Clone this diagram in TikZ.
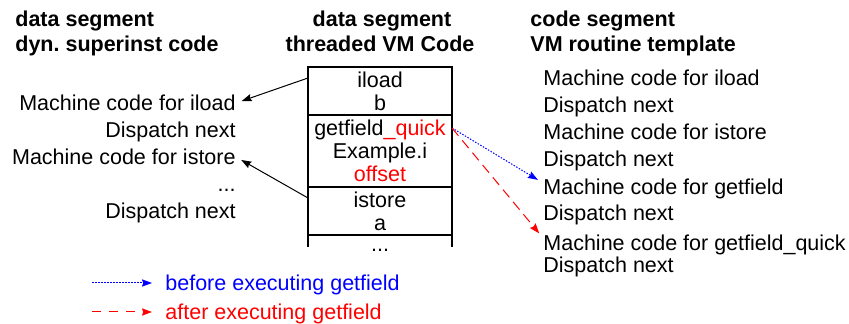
\documentclass[tikz,border=0pt]{standalone}
\usepackage{fontspec}
\setmainfont{Liberation Sans}
\usetikzlibrary{arrows.meta,positioning}

\begin{document}
\begin{tikzpicture}[x=0.5pt, y=-0.5pt, >={Stealth[length=5pt, width=3.6pt, inset=0.6pt]}, shorten >=3pt,
    txt/.style={inner sep=0pt, text height=7.7pt, text depth=0pt, font=\fontsize{10.75}{13}\selectfont},
    head/.style={txt, font=\fontsize{10.75}{13}\selectfont\bfseries},
    cell/.style={draw, line width=0.75pt, minimum width=72pt, inner sep=0pt, outer sep=0pt, align=center, font=\fontsize{10.75}{11.5}\selectfont},
    ptr/.style={->, line width=0.5pt},
    before/.style={ptr, blue, dash pattern=on 0.75pt off 0.75pt},
    after/.style={ptr, red, dash pattern=on 5pt off 3pt}]
    \useasboundingbox (0,0) rectangle (849,324);

    % Headers
    \node [head, anchor=west] (h1a) at (15,19)  {data segment};
    \node [head, anchor=west] (h1b) at (15,44)  {dyn.\ superinst code};
    \node [head]              (h2a) at (382,19) {data segment};
    \node [head]              (h2b) at (380,44) {threaded VM Code};
    \node [head, anchor=west] (h3a) at (530,19) {code segment};
    \node [head, anchor=west] (h3b) at (530,44) {VM routine template};

    % Threaded code cells
    \node [cell, minimum height=24pt]                    (iload)  at (380,91) {iload\\b};
    \node [cell, minimum height=36pt, below=0pt of iload] (getf)  {getfield\textcolor{red}{\_quick}\\Example.i\\\textcolor{red}{offset}};
    \node [cell, minimum height=24pt, below=0pt of getf]  (istore) {istore\\a};
    \node [txt, anchor=base] (more) at (380,252) {...};
    \draw [line width=0.75pt] (istore.south west) -- ++(0,18);
    \draw [line width=0.75pt] (istore.south east) -- ++(0,18);

    % Superinstruction code
    \node [txt, anchor=east] (lmc1)  at (236,103) {Machine code for iload};
    \node [txt, anchor=east] (lds1)  at (236,130) {Dispatch next};
    \node [txt, anchor=east] (lmc2)  at (236,157) {Machine code for istore};
    \node [txt, anchor=east] (ldots) at (236,184) {...};
    \node [txt, anchor=east] (lds2)  at (236,211) {Dispatch next};

    % Routine templates
    \node [txt, anchor=west] (rmc1) at (543,78)  {Machine code for iload};
    \node [txt, anchor=west] (rds1) at (543,105) {Dispatch next};
    \node [txt, anchor=west] (rmc2) at (543,132) {Machine code for istore};
    \node [txt, anchor=west] (rds2) at (543,159) {Dispatch next};
    \node [txt, anchor=west] (rmc3) at (543,187) {Machine code for getfield};
    \node [txt, anchor=west] (rds3) at (543,213) {Dispatch next};
    \node [txt, anchor=west] (rmc4) at (543,243) {Machine code for getfield\_quick};
    \node [txt, anchor=west] (rds4) at (543,265) {Dispatch next};

    % Legend
    \coordinate (lb) at (92,283);
    \coordinate (la) at (92,312);
    \node [txt, anchor=west, text=blue] (lgb) at (165,283) {before executing getfield};
    \node [txt, anchor=west, text=red]  (lga) at (165,312) {after executing getfield};

    % Paths
    \coordinate (q) at ([yshift=-6.5pt]getf.north east);
    \path [ptr]    ([yshift=-5.5pt]iload.north west)  edge (lmc1.east);
    \path [ptr]    ([yshift=-5.5pt]istore.north west) edge (lmc2.east);
    \path [before] (q) edge ([yshift=2pt]rmc3.west);
    \path [after]  (q) edge ([yshift=2.5pt]rmc4.west);
    \path [before, shorten >=6.5pt] (lb) edge (lgb.west);
    \path [after, shorten >=6.5pt, dash pattern=on 4.5pt off 4pt]  (la) edge (lga.west);

\end{tikzpicture}
\end{document}
